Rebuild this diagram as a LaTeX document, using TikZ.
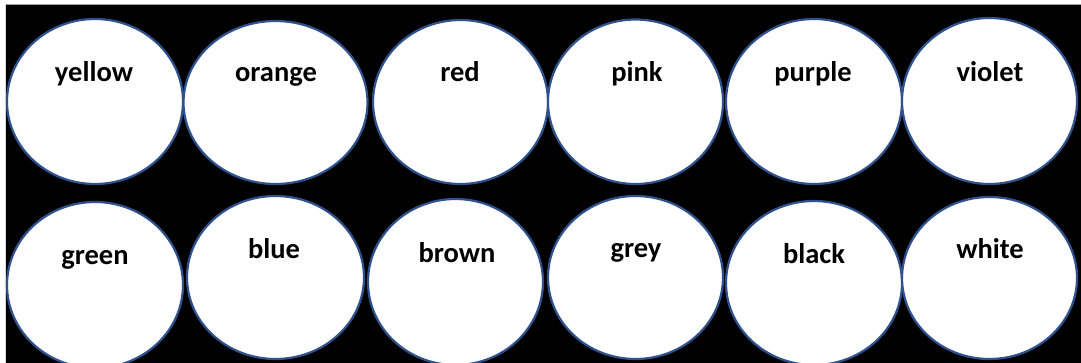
\documentclass[tikz,border=0pt]{standalone}
\usepackage{fontspec}
\setmainfont{Carlito}
\usetikzlibrary{shapes.geometric}
\definecolor{ringblue}{HTML}{2F528F}
\definecolor{edgegray}{HTML}{A0A0A0}
\tikzset{
  disc/.style={ellipse, draw=ringblue, fill=white, line width=2.2pt, inner sep=0pt},
  word/.style={anchor=base, inner sep=0pt, font=\fontsize{28.5}{32}\selectfont\bfseries, text=black}
}
\begin{document}
\begin{tikzpicture}[x=1pt,y=-1pt]
\useasboundingbox (0,0) rectangle (1081,363);
\fill[white] (0,0) rectangle (1081,363);
\fill[black] (5,4) rectangle (1081,363);
\draw[edgegray, line width=0.8pt] (5,4) -- (1081,4);
\draw[white!85!black, line width=0.6pt] (5,4) -- (5,363);
\begin{scope}
\clip (5,4) rectangle (1081,363);
% row 1
\node[disc, minimum width=176pt, minimum height=165pt] (e1) at (95,101.5) {};
\node[disc, minimum width=184pt, minimum height=163pt] (e2) at (275.5,102.5) {};
\node[disc, minimum width=175pt, minimum height=164pt] (e3) at (460.5,102) {};
\node[disc, minimum width=175pt, minimum height=164.5pt] (e4) at (635.5,101.75) {};
\node[disc, minimum width=176pt, minimum height=165pt] (e5) at (814,101.5) {};
\node[disc, minimum width=175pt, minimum height=166pt] (e6) at (989.5,101) {};
% row 2
\node[disc, minimum width=176pt, minimum height=166pt] (e7) at (95,285) {};
\node[disc, minimum width=177pt, minimum height=163pt] (e8) at (275.5,277.5) {};
\node[disc, minimum width=175pt, minimum height=166pt] (e9) at (455.5,282) {};
\node[disc, minimum width=175pt, minimum height=163pt] (e10) at (635.5,277.5) {};
\node[disc, minimum width=176pt, minimum height=164pt] (e11) at (814,283) {};
\node[disc, minimum width=175pt, minimum height=162pt] (e12) at (989.5,278) {};
\end{scope}
% labels
\node[word] (t1) at (94,82) {yellow};
\node[word] (t2) at (276,82) {orange};
\node[word] (t3) at (460,82) {red};
\node[word] (t4) at (637,82) {pink};
\node[word] (t5) at (813,82) {purple};
\node[word] (t6) at (990,82) {violet};
\node[word] (t7) at (95,265) {green};
\node[word] (t8) at (274,259) {blue};
\node[word] (t9) at (457,263) {brown};
\node[word] (t10) at (636,258) {grey};
\node[word] (t11) at (814,264) {black};
\node[word] (t12) at (990,259) {white};
\end{tikzpicture}
\end{document}
